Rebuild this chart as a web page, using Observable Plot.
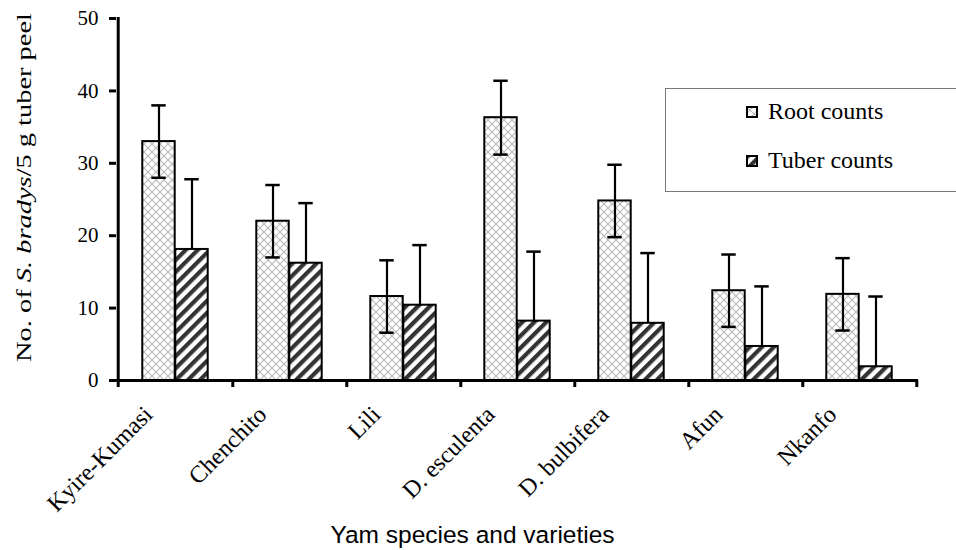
<!DOCTYPE html>
<html>
<head>
<meta charset="utf-8">
<script src="https://cdn.jsdelivr.net/npm/d3@7"></script>
<script src="https://cdn.jsdelivr.net/npm/@observablehq/plot@0.6"></script>
<style>
  html, body { margin: 0; padding: 0; background: #fff; overflow: hidden; }
  #wrap { position: relative; width: 956px; height: 550px; }
  #legend { position: absolute; left: 665px; top: 88px; width: 320px; height: 104px;
    border: 1.5px solid #777; background: #fff; box-sizing: border-box;
    font-family: "Liberation Serif", "Times New Roman", serif; font-size: 24px; color: #000; }
  .lg { position: absolute; left: 80px; display: flex; align-items: center; white-space: nowrap; }
  .lg svg { margin-right: 10px; }
</style>
</head>
<body>
<div id="wrap">
  <div id="chart"></div>
  <div id="legend">
    <div class="lg" style="top:9px"><svg width="12" height="12"><rect x="1" y="1" width="10" height="10" fill="url(#crossPat)" stroke="#000" stroke-width="2"/></svg><span>Root counts</span></div>
    <div class="lg" style="top:58px"><svg width="12" height="12"><rect x="1" y="1" width="10" height="10" fill="url(#stripePat)" stroke="#000" stroke-width="2"/></svg><span>Tuber counts</span></div>
  </div>
</div>
<script>
const cats = ["Kyire-Kumasi", "Chenchito", "Lili", "D. esculenta", "D. bulbifera", "Afun", "Nkanfo"];
const rootMean = [33.0, 22.0, 11.6, 36.3, 24.8, 12.4, 11.9];
const rootErr = [5.0, 5.0, 5.0, 5.1, 5.0, 5.0, 5.0];
const tuberMean = [18.1, 16.2, 10.4, 8.2, 7.9, 4.7, 1.9];
const tuberErr = [9.7, 8.3, 8.3, 9.6, 9.7, 8.3, 9.7];
const yTicks = [0, 10, 20, 30, 40, 50];
const xTitle = "Yam species and varieties";

const rows = cats.map((c, i) => ({cat: c, root: rootMean[i], rootErr: rootErr[i], tuber: tuberMean[i], tuberErr: tuberErr[i]}));

const W = 956, H = 550, mL = 116, mR = 38, mT = 18, mB = 170;
const bw = (W - mL - mR) / cats.length;
const barW = 33;
const gap = (bw - 2 * barW) / 2;
const capW = 15;
const serif = "'Liberation Serif', 'Times New Roman', serif";

const chart = Plot.plot({
  width: W, height: H,
  marginLeft: mL, marginRight: mR, marginTop: mT, marginBottom: mB,
  style: {fontFamily: serif, fontSize: "20px", color: "#000", background: "#fff"},
  x: {type: "band", domain: cats, padding: 0, axis: null},
  y: {domain: [0, 50], axis: null},
  marks: [
    Plot.barY(rows, {x: "cat", y: "root", fill: "url(#crossPat)", stroke: "#000", strokeWidth: 2,
      insetLeft: gap, insetRight: bw - gap - barW}),
    Plot.barY(rows, {x: "cat", y: "tuber", fill: "url(#stripePat)", stroke: "#000", strokeWidth: 2,
      insetLeft: gap + barW, insetRight: gap}),
    // root error bars
    Plot.ruleX(rows, {x: "cat", y1: d => d.root - d.rootErr, y2: d => d.root + d.rootErr, dx: -barW / 2, strokeWidth: 2.2}),
    Plot.tickY(rows, {x: "cat", y: d => d.root + d.rootErr, insetLeft: gap + barW / 2 - capW / 2, insetRight: bw - gap - barW / 2 - capW / 2, strokeWidth: 2.5}),
    Plot.tickY(rows, {x: "cat", y: d => d.root - d.rootErr, insetLeft: gap + barW / 2 - capW / 2, insetRight: bw - gap - barW / 2 - capW / 2, strokeWidth: 2.5}),
    // tuber error bars (upper only)
    Plot.ruleX(rows, {x: "cat", y1: "tuber", y2: d => d.tuber + d.tuberErr, dx: barW / 2, strokeWidth: 2.2}),
    Plot.tickY(rows, {x: "cat", y: d => d.tuber + d.tuberErr, insetLeft: gap + barW * 1.5 - capW / 2, insetRight: gap + barW / 2 - capW / 2, strokeWidth: 2.5}),
    // axes
    Plot.ruleY([0], {strokeWidth: 3}),
    Plot.ruleX([cats[0]], {dx: -bw / 2, y1: 50, y2: 0, insetBottom: -7, insetTop: -1, strokeWidth: 3}),
    Plot.axisY({ticks: yTicks, tickSize: 7, strokeWidth: 3, tickPadding: 11, fontSize: 21, label: null}),
    Plot.axisX({tickSize: 7, strokeWidth: 3, dx: bw / 2, tickFormat: () => "", label: null}),
    Plot.axisX({tickSize: 0, tickRotate: -45, textAnchor: "end", tickPadding: 30, dx: -27, fontSize: 24, label: null}),
    Plot.text([xTitle], {frameAnchor: "bottom", dy: 162, dx: -45, fontFamily: "'Liberation Sans', Arial, sans-serif", fontSize: 24.5}),
    Plot.text(["ylabel"], {frameAnchor: "left", textAnchor: "middle", dx: -93, dy: -12, rotate: -90, fontSize: 22, className: "ylab"})
  ]
});

// patterns
const defs = d3.select(chart).insert("defs", ":first-child");
const cp = defs.append("pattern").attr("id", "crossPat").attr("patternUnits", "userSpaceOnUse").attr("width", 8).attr("height", 8);
cp.append("rect").attr("width", 8).attr("height", 8).attr("fill", "#fff");
cp.append("path").attr("d", "M0,0L8,8M8,0L0,8").attr("stroke", "#b8b8b8").attr("stroke-width", 1.1);
const sp = defs.append("pattern").attr("id", "stripePat").attr("patternUnits", "userSpaceOnUse").attr("width", 8.5).attr("height", 8.5).attr("patternTransform", "rotate(45)");
sp.append("rect").attr("width", 8.5).attr("height", 8.5).attr("fill", "#fff");
sp.append("rect").attr("width", 4.2).attr("height", 8.5).attr("fill", "#333");

// y label with italic species name, stretched to the reference's length
const yl = d3.select(chart).select(".ylab text");
yl.text(null);
yl.append("tspan").text("No. of ");
yl.append("tspan").attr("font-style", "italic").text("S. bradys");
yl.append("tspan").text("/5 g tuber peel");
yl.attr("textLength", 349).attr("lengthAdjust", "spacingAndGlyphs");

document.getElementById("chart").appendChild(chart);
</script>
</body>
</html>
